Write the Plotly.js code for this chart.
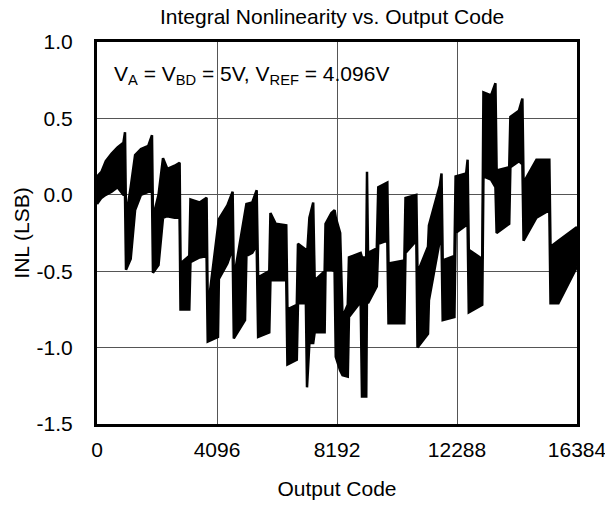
<!DOCTYPE html>
<html>
<head>
<meta charset="utf-8">
<script src="https://cdn.plot.ly/plotly-3.0.1.min.js"></script>
<style>html,body{margin:0;padding:0;background:#fff;}#chart{width:605px;height:510px;}</style>
</head>
<body>
<div id="chart"></div>
<script>
// Output code positions of the envelope readings
const codes = [0,150,300,500,700,900,956,990,1150,1300,1500,1750,1877,1910,2100,2253,2400,2650,2820,
  2850,3150,3190,3500,3740,3780,4000,4130,4160,4450,4630,4670,5052,5100,5300,5450,5500,5880,5920,6100,6460,
  6500,6820,6860,7130,7168,7250,7380,7430,7770,7800,8000,8110,8150,8300,8380,8560,8600,9000,9045,9190,9216,9250,
  9550,9600,9910,9950,10490,10530,10900,10940,11298,11330,11700,11760,11800,12200,12240,12600,12650,12690,13150,
  13190,13450,13600,13640,14070,14110,14400,14520,14560,15000,15440,15480,15750,16384];
// Upper edge of the INL band (LSB)
const inlUpper = [0.12,0.15,0.22,0.27,0.31,0.34,0.41,-0.15,0.05,0.26,0.30,0.32,0.39,-0.15,0.0,0.24,0.17,0.19,0.21,
  -0.45,-0.40,-0.03,-0.05,-0.02,-0.75,-0.40,-0.22,-0.16,-0.07,0.02,-0.55,-0.12,-0.06,-0.05,0.03,-0.54,-0.50,-0.12,-0.19,-0.20,
  -0.75,-0.72,-0.32,-0.36,-0.40,-0.15,-0.05,-0.56,-0.50,-0.19,-0.12,-0.10,-0.15,-0.25,-0.80,-0.72,-0.41,-0.38,-0.41,-0.41,0.15,-0.38,
  -0.35,0.05,0.08,-0.45,-0.43,-0.02,0.0,-0.51,-0.34,-0.20,0.06,0.14,-0.43,-0.40,0.12,0.14,0.23,-0.36,-0.42,
  0.67,0.65,0.73,0.16,0.18,0.51,0.55,0.63,0.08,0.23,0.23,-0.34,-0.30,-0.21];
// Lower edge of the INL band (LSB)
const inlLower = [-0.06,-0.02,0.0,0.02,0.05,0.0,0.0,-0.49,-0.42,-0.10,0.0,0.02,0.02,-0.51,-0.46,-0.15,-0.14,-0.15,-0.15,
  -0.75,-0.75,-0.44,-0.41,-0.40,-0.96,-0.94,-0.93,-0.55,-0.45,-0.35,-0.94,-0.82,-0.40,-0.38,-0.33,-0.93,-0.90,-0.56,-0.56,-0.56,
  -1.11,-1.08,-0.71,-0.71,-1.26,-0.97,-0.97,-0.90,-0.90,-0.49,-0.49,-0.50,-1.06,-1.15,-1.18,-1.19,-0.80,-0.70,-1.32,-1.32,-0.60,-0.71,
  -0.60,-0.32,-0.30,-0.84,-0.84,-0.38,-0.30,-1.00,-0.91,-0.69,-0.30,-0.30,-0.82,-0.80,-0.25,-0.20,-0.20,-0.77,-0.72,
  0.12,0.10,0.05,-0.25,-0.19,0.18,0.22,0.20,-0.30,-0.15,-0.10,-0.71,-0.71,-0.47];

const xTicks = [0,4096,8192,12288,16384];
const yTicks = [1.0,0.5,0.0,-0.5,-1.0,-1.5];

const font = 'Liberation Sans, Arial, sans-serif';
const fs = 21;

const traces = [
  {x: codes, y: inlLower, type:'scatter', mode:'lines', line:{color:'#000', width:2.5}, hoverinfo:'skip', showlegend:false},
  {x: codes, y: inlUpper, type:'scatter', mode:'lines', line:{color:'#000', width:2.5}, fill:'tonexty', fillcolor:'#000', showlegend:false}
];

const layout = {
  width:605, height:510,
  margin:{l:97, r:28, t:42, b:86},
  paper_bgcolor:'#fff', plot_bgcolor:'#fff',
  font:{family:font, size:fs, color:'#000'},
  showlegend:false,
  title:{text:'Integral Nonlinearity vs. Output Code', font:{family:font, size:fs, color:'#000'},
    x:0.549, xref:'container', y:0.967, yref:'container', xanchor:'center', yanchor:'middle'},
  xaxis:{range:[0,16384], tickvals:xTicks, ticktext:xTicks.map(String), ticks:'outside', ticklen:5, tickcolor:'rgba(0,0,0,0)',
    tickfont:{family:font, size:fs, color:'#000'}, ticklabeloverflow:'allow',
    showline:true, linecolor:'#000', linewidth:3, mirror:true, showgrid:true, gridcolor:'#555', gridwidth:1, zeroline:false,
    title:{text:'Output Code', font:{family:font, size:fs, color:'#000'}, standoff:22}, fixedrange:true},
  yaxis:{range:[-1.5,1.0], tickvals:yTicks, ticktext:yTicks.map(v=>v.toFixed(1)), ticks:'outside', ticklen:17, tickcolor:'rgba(0,0,0,0)',
    tickfont:{family:font, size:fs, color:'#000'},
    showline:true, linecolor:'#000', linewidth:3, mirror:true, showgrid:true, gridcolor:'#555', gridwidth:1, zeroline:false,
    title:{text:'INL (LSB)', font:{family:font, size:fs, color:'#000'}, standoff:2}, fixedrange:true},
  annotations:[{text:'V<sub>A</sub> = V<sub>BD</sub> = 5V, V<sub>REF</sub> = 4.096V', xref:'paper', yref:'paper',
    x:0.031, y:0.914, xanchor:'left', yanchor:'middle', showarrow:false, font:{family:font, size:fs, color:'#000'}}]
};

Plotly.newPlot('chart', traces, layout, {staticPlot:true, displayModeBar:false});
</script>
</body>
</html>
